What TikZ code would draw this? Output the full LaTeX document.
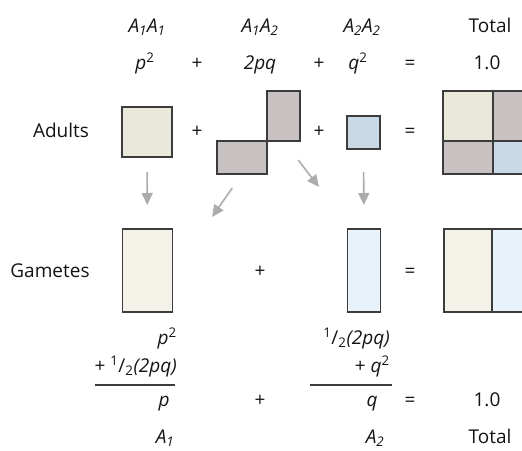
\documentclass[tikz,border=0pt]{standalone}
\usepackage{fontspec}
\setmainfont{Open Sans}
\usetikzlibrary{arrows.meta}
\definecolor{adultA}{RGB}{233,232,218}
\definecolor{adultHet}{RGB}{200,193,193}
\definecolor{adulta}{RGB}{201,216,229}
\definecolor{gameteA}{RGB}{244,242,232}
\definecolor{gametea}{RGB}{232,242,251}
\definecolor{boxedge}{RGB}{60,60,60}
\definecolor{arrowgray}{RGB}{172,172,172}
\newcommand{\al}[1]{\textit{A\textsubscript{#1}}}
\newcommand{\halfof}{\textsuperscript{1}/\textsubscript{2}}

\begin{document}
\begin{tikzpicture}[x=1pt, y=-1pt,
    lbl/.style={inner sep=0pt, font=\fontsize{19}{22}\selectfont, anchor=base, text=black!92},
    cell/.style={draw=boxedge, line width=1.3pt, inner sep=0pt, outer sep=0pt},
    arr/.style={-{Triangle[length=12pt,width=11pt]}, draw=arrowgray, line width=1.6pt},
    rule/.style={draw=boxedge, line width=1.1pt}
]
\useasboundingbox (0,0) rectangle (522,450);
\clip (0,0) rectangle (522,450);

% genotypes and their frequencies
\node[lbl] (hAA) at (147,32) {\al{1}\al{1}};
\node[lbl] (hAa) at (260,32) {\al{1}\al{2}};
\node[lbl] (haa) at (362,32) {\al{2}\al{2}};
\node[lbl] (hTot) at (490,32) {Total};

\node[lbl] (fAA) at (145,69) {\textit{p}\textsuperscript{2}};
\node[lbl] (fplus1) at (197,69) {+};
\node[lbl] (fAa) at (260,69) {\textit{2pq}};
\node[lbl] (fplus2) at (319,69) {+};
\node[lbl] (faa) at (358,69) {\textit{q}\textsuperscript{2}};
\node[lbl] (feq) at (410,69) {=};
\node[lbl] (fTot) at (487,69) {1.0};

% adults
\node[lbl] (adults) at (61,137) {Adults};
\node[cell, fill=adultA, minimum width=50pt, minimum height=50pt] (bAA) at (147,132) {};
\node[lbl] (aplus1) at (197,137) {+};
\node[cell, fill=adultHet, minimum width=33pt, minimum height=50pt] (bAaU) at (283.5,116) {};
\node[cell, fill=adultHet, minimum width=50pt, minimum height=33pt] (bAaL) at (242,157.5) {};
\node[lbl] (aplus2) at (319,137) {+};
\node[cell, fill=adulta, minimum width=33pt, minimum height=33pt] (baa) at (363.5,132.5) {};
\node[lbl] (aeq) at (410,137) {=};
\node[cell, fill=adultA, minimum width=50pt, minimum height=50pt] (tAA) at (468,116) {};
\node[cell, fill=adultHet, minimum width=33pt, minimum height=50pt] (tAa) at (509.5,116) {};
\node[cell, fill=adultHet, minimum width=50pt, minimum height=33pt] (taA) at (468,157.5) {};
\node[cell, fill=adulta, minimum width=33pt, minimum height=33pt] (taa) at (509.5,157.5) {};

% gametes
\node[lbl] (gametes) at (50,277) {Gametes};
\node[cell, fill=gameteA, minimum width=50pt, minimum height=83pt] (gA) at (147.5,270.5) {};
\node[lbl] (gplus) at (260,277) {+};
\node[cell, fill=gametea, minimum width=33pt, minimum height=83pt] (ga) at (364,270.5) {};
\node[lbl] (geq) at (410,277) {=};
\node[cell, fill=gameteA, minimum width=48pt, minimum height=83pt] (tgA) at (468,270.5) {};
\node[cell, fill=gametea, minimum width=33pt, minimum height=83pt] (tga) at (508.5,270.5) {};

\coordinate (tipA) at (212,217);
\coordinate (tipa) at (319,187);
\draw[arr, shorten <=15pt, shorten >=24pt] (bAA) -- (gA);
\draw[arr, shorten <=17pt] (bAaL.south) -- (tipA);
\draw[arr, shorten <=24pt] (bAaU.south) -- (tipa);
\draw[arr, shorten <=23pt, shorten >=24pt] (baa.south) -- (ga.north);

% allele frequencies
\node[lbl, anchor=base east] (sA1) at (177,344) {\textit{p}\textsuperscript{2}};
\node[lbl, anchor=base east] (sA2) at (177,372) {+ \halfof\textit{(2pq)}};
\node[lbl, anchor=base east] (sa1) at (390,344) {\halfof\textit{(2pq)}};
\node[lbl, anchor=base east] (sa2) at (390,372) {+ \textit{q}\textsuperscript{2}};
\draw[rule] (95,385) -- (175,385);
\draw[rule] (310,385) -- (392,385);

\node[lbl] (sA) at (164,406) {\textit{p}};
\node[lbl] (splus) at (260,406) {+};
\node[lbl] (sa) at (372,406) {\textit{q}};
\node[lbl] (seq) at (410,406) {=};
\node[lbl] (sTot) at (487,406) {1.0};

\node[lbl] (nA1) at (165,443) {\textit{A}\textsubscript{\textit{1}}};
\node[lbl] (nA2) at (375,443) {\textit{A}\textsubscript{\textit{2}}};
\node[lbl] (nTot) at (490,443) {Total};
\end{tikzpicture}
\end{document}
